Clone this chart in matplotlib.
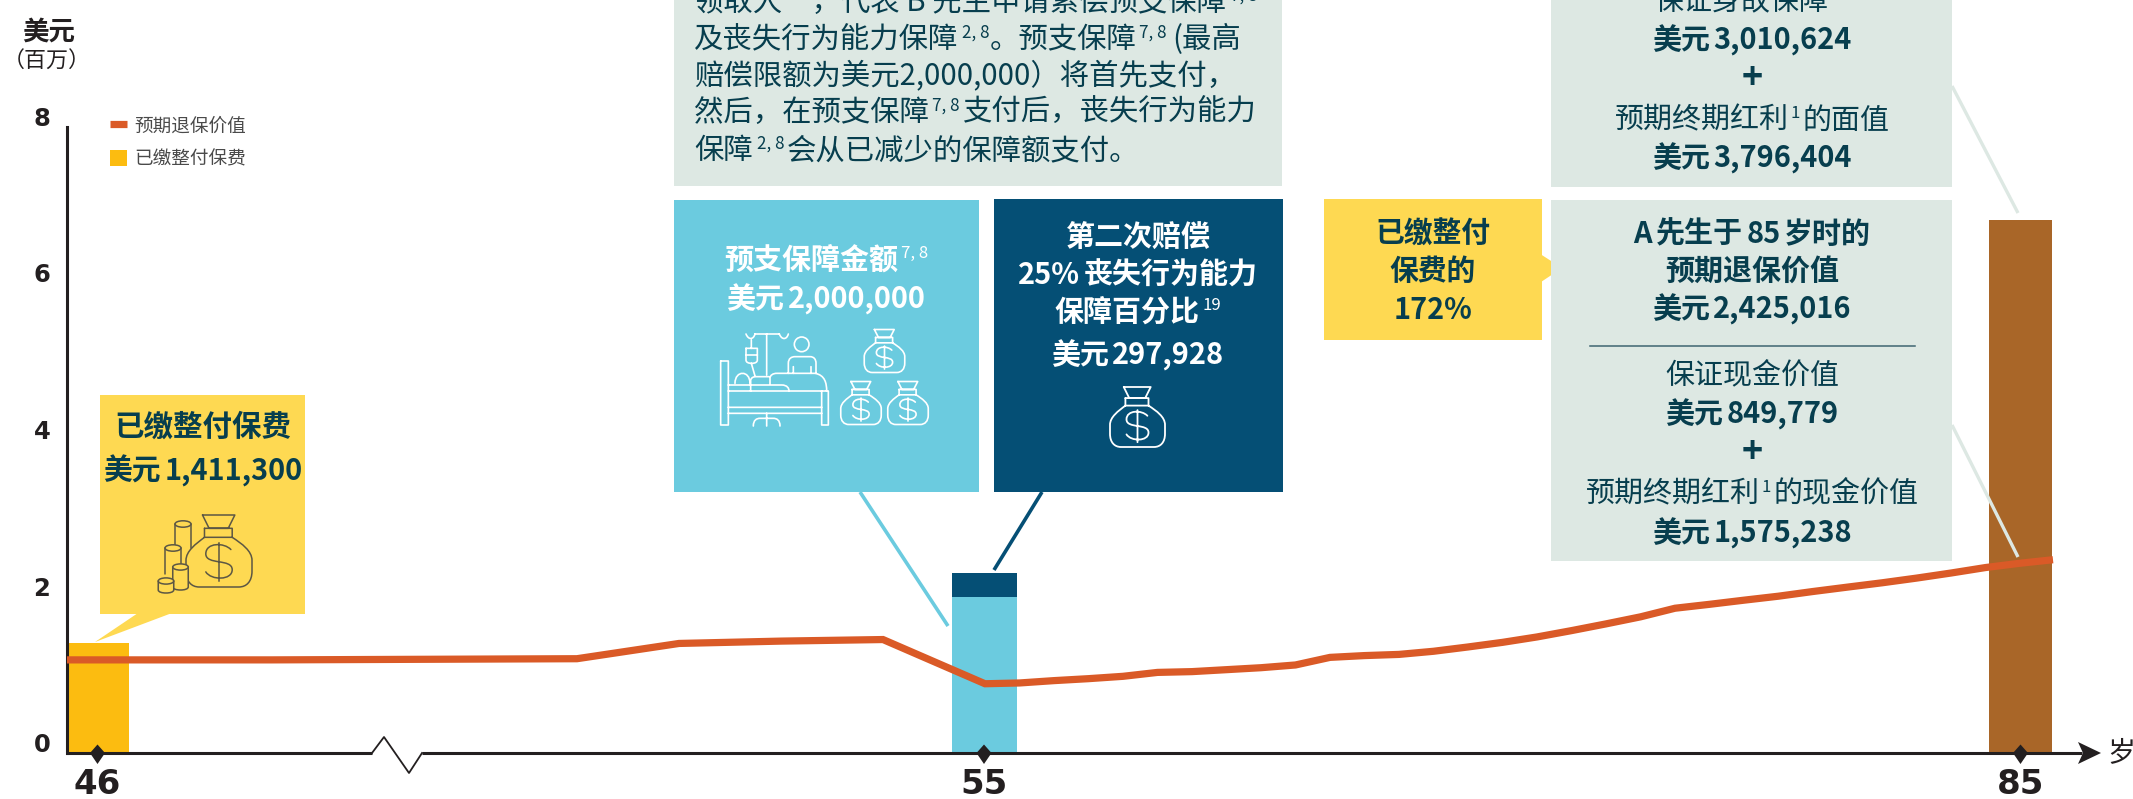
import numpy as np
import matplotlib
matplotlib.use("Agg")
import matplotlib.pyplot as plt
from matplotlib.path import Path
from matplotlib.patches import PathPatch, Rectangle, Polygon, Circle, Ellipse
from matplotlib.lines import Line2D
from matplotlib.transforms import ScaledTranslation

plt.rcParams['font.family'] = ['Noto Sans CJK SC', 'DejaVu Sans']

# ---------- data ----------
line_ages = list(range(46, 87))
surrender_value = [1.19, 1.19, 1.19, 1.195, 1.2, 1.205, 1.40, 1.43, 1.45, 0.885,
                   0.895, 0.925, 0.95, 0.98, 1.03, 1.04, 1.065, 1.09, 1.125, 1.222,
                   1.245, 1.26, 1.30, 1.355, 1.414, 1.483, 1.564, 1.65, 1.74, 1.85,
                   1.90, 1.953, 2.004, 2.064, 2.12, 2.175, 2.235, 2.30, 2.37, 2.425, 2.47]
tick_ages = [46, 55, 85]
premium_paid = [1.4113]
advance_benefit = [2.0]
second_claim = [0.297928]
age85_death_value = [6.807028]
y_ticks = [0, 2, 4, 6, 8]

C_LINE = '#da5a27'; C_YEL = '#fcbc10'; C_BLUE = '#6bcbdf'; C_NAVY = '#054f75'
C_BROWN = '#a96628'; C_BOX = '#fed952'; C_GREY = '#dde8e3'; C_TXT = '#073e4e'; C_AX = '#231f20'

W, H = 2133, 799
fig = plt.figure(figsize=(W / 100, H / 100), dpi=100, facecolor='white')

# ---------- data axes (pixel-aligned) ----------
AX_L, AX_R, AX_B, AX_T = 67, 2078, 753, 127
ax = fig.add_axes([AX_L / W, 1 - AX_B / H, (AX_R - AX_L) / W, (AX_B - AX_T) / H], zorder=2)
ax.patch.set_alpha(0)
ax.set_xlim(AX_L, AX_R)
ax.set_ylim(0, 8)
line_x = np.interp(line_ages, [46, 55, 85, 86], [67, 985, 2020, 2053])
tick_x = [97.5, 984, 2020.5]
ax.bar(tick_x[0] + 0.5, premium_paid, width=63, color=C_YEL, label='已缴整付保费')
ax.bar(tick_x[1] + 1, advance_benefit, width=65, color=C_BLUE)
ax.bar(tick_x[1] + 1, second_claim, bottom=advance_benefit, width=65, color=C_NAVY)
ax.bar(tick_x[2], age85_death_value, width=63.5, color=C_BROWN)
ax.plot(line_x, surrender_value, color=C_LINE, lw=5.2, solid_joinstyle='miter',
        solid_capstyle='butt', label='预期退保价值', zorder=3)
for s in ['top', 'right', 'bottom']:
    ax.spines[s].set_visible(False)
ax.spines['left'].set_linewidth(2.2)
ax.spines['left'].set_color(C_AX)
ax.set_yticks(y_ticks)
ax.set_yticklabels([str(v) for v in y_ticks], fontsize=17.5, fontweight='bold', color=C_AX,
                   family='DejaVu Sans')
ax.tick_params(axis='y', length=0, pad=12)
up = ScaledTranslation(0, 10.5 / 100, fig.dpi_scale_trans)
for lb in ax.get_yticklabels():
    lb.set_transform(lb.get_transform() + up)
ax.set_xticks(tick_x)
ax.set_xticklabels([str(a) for a in tick_ages], fontsize=24.5, fontweight='bold', color=C_AX,
                   family='DejaVu Sans')
ax.tick_params(axis='x', length=0, pad=11)
handles, labels = ax.get_legend_handles_labels()
order = sorted(range(len(labels)), key=lambda i: labels[i] != '预期退保价值')
leg = fig.legend([handles[i] for i in order], [labels[i] for i in order],
                 loc='upper left', bbox_to_anchor=(110 / W, 1 - 117 / H), frameon=False,
                 prop={'size': 13.4, 'family': 'Noto Sans CJK SC'}, labelcolor='#4a4a4a',
                 handlelength=0.92, handleheight=0.95, handletextpad=0.4, labelspacing=0.78,
                 borderpad=0, borderaxespad=0)

# ---------- overlay in pixel coordinates ----------
ov = fig.add_axes([0, 0, 1, 1], zorder=4)
ov.set_xlim(0, W); ov.set_ylim(H, 0); ov.axis('off'); ov.patch.set_alpha(0)
renderer = fig.canvas.get_renderer()


def rect(x0, y0, x1, y1, c, z=1):
    ov.add_patch(Rectangle((x0, y0), x1 - x0, y1 - y0, fc=c, ec='none', zorder=z))


def rich(x, cy, segs, px, bold=False, color=C_TXT, ha='center'):
    """segs: strings, or ('^', text) for superscript, or ('g', gap_px)."""
    base = cy + 0.37 * px
    w_weight = 'bold' if bold else 'normal'
    items, total = [], 0
    for s in ([segs] if isinstance(segs, str) else segs):
        if isinstance(s, tuple) and s[0] == 'g':
            total += s[1]
            items.append(('g', s[1], None))
            continue
        sup = isinstance(s, tuple)
        txt = s[1] if sup else s
        p = px * 0.58 if sup else px
        t = ov.text(0, base - (px * 0.36 if sup else 0), txt, fontsize=p * 0.72, color=color,
                    fontweight='normal' if sup else w_weight, ha='left', va='baseline', zorder=6,
                    clip_on=False)
        w = t.get_window_extent(renderer).width
        items.append(('t', w, t))
        total += w
    cur = x - total / 2 if ha == 'center' else x
    for kind, w, t in items:
        if t is not None:
            t.set_x(cur)
        cur += w


def money(label, amount):
    return [label, ('g', 3), amount]


def stroke(d, color, lw=1.1, x0=0, y0=0, sx=1, sy=1, z=7, fill='none'):
    tok = d.split()
    verts, codes, i = [], [], 0
    while i < len(tok):
        c = tok[i]
        n = {'M': 1, 'L': 1, 'C': 3}[c]
        for k in range(n):
            verts.append((x0 + float(tok[i + 1 + 2 * k]) * sx, y0 + float(tok[i + 2 + 2 * k]) * sy))
            codes.append({'M': Path.MOVETO, 'L': Path.LINETO, 'C': Path.CURVE4}[c])
        i += 1 + 2 * n
    ov.add_patch(PathPatch(Path(verts, codes), fc=fill, ec=color, lw=lw, zorder=z,
                           joinstyle='round', capstyle='round'))


BAG = ("M -0.25 -0.5 L 0.24 -0.5 L 0.14 -0.315 L -0.15 -0.315 L -0.25 -0.5 "
       "M -0.22 -0.315 L 0.2 -0.315 L 0.2 -0.19 L -0.22 -0.19 L -0.22 -0.315 "
       "M -0.22 -0.19 C -0.35 -0.1 -0.5 0 -0.5 0.13 L -0.5 0.28 C -0.5 0.42 -0.42 0.5 -0.3 0.5 "
       "L 0.3 0.5 C 0.42 0.5 0.5 0.42 0.5 0.28 L 0.5 0.13 C 0.5 0 0.35 -0.1 0.2 -0.19 "
       "M 0.18 -0.02 C 0.08 -0.12 -0.2 -0.12 -0.2 0.04 C -0.2 0.2 0.2 0.1 0.2 0.26 "
       "C 0.2 0.41 -0.12 0.41 -0.2 0.29 M 0 -0.115 L 0 0.42")


def bag(cx, cy, w, h, color, lw=1.1):
    stroke(BAG, color, lw, cx, cy, w, h)


def cyl(cx, top, bot, w, color, fill, closed=True, lw=1.1):
    ry = w * 0.2
    x0, x1 = cx - w / 2, cx + w / 2
    if closed:
        d = (f"M {x0} {top} L {x0} {bot} C {x0} {bot + ry * 1.3} {x1} {bot + ry * 1.3} {x1} {bot} "
             f"L {x1} {top}")
    else:
        d = f"M {x0} {bot} L {x0} {top} L {x1} {top} L {x1} {bot}"
    stroke(d, color, lw, fill=fill)
    ov.add_patch(Ellipse((cx, top), w, ry * 2, fc=fill, ec=color, lw=lw, zorder=7))


# axis with break and arrow
ax_kw = dict(color=C_AX, solid_capstyle='butt', zorder=5)
ov.add_line(Line2D([66, 372], [753, 753], lw=2.2, **ax_kw))
ov.add_line(Line2D([372, 384, 409, 422], [753, 737, 773, 753], lw=1.3, color=C_AX, zorder=5))
ov.add_line(Line2D([422, 2082], [753, 753], lw=2.2, **ax_kw))
ov.add_patch(Polygon([(2078, 742), (2101, 753), (2078, 764), (2083, 753)], fc=C_AX, ec='none', zorder=5))
for tx in tick_x:
    ov.add_patch(Polygon([(tx, 744.5), (tx + 7.5, 753), (tx, 764), (tx - 7.5, 753)], fc=C_AX, ec='none', zorder=5))
rich(2107, 751, '岁', 28, color=C_AX, ha='left')
rich(49, 30, '美元', 26.5, bold=True, color=C_AX)
rich(47, 60, '（百万）', 22, color=C_AX)

# connectors
conn = dict(solid_capstyle='butt', zorder=5)
ov.add_line(Line2D([860, 948], [492, 626], color=C_BLUE, lw=2.6, **conn))
ov.add_line(Line2D([1042, 994], [492, 570], color=C_NAVY, lw=2.6, **conn))
ov.add_line(Line2D([1952, 2018], [86, 213], color=C_GREY, lw=2.4, **conn))
ov.add_line(Line2D([1952, 2018], [425, 557], color=C_GREY, lw=2.4, **conn))

# premium callout
rect(100, 395, 305, 614, C_BOX)
ov.add_patch(Polygon([(138, 613), (172, 613), (95, 642)], fc=C_BOX, ec='none', zorder=1))
rich(203, 425, '已缴整付保费', 29.5, bold=True)
rich(203, 469, money('美元', '1,411,300'), 28.8, bold=True)
ICON = '#5c5744'
bag(219, 551, 66, 72, ICON)
cyl(183, 524, 548, 16, ICON, C_BOX, closed=False)
cyl(173, 548, 574, 16, ICON, C_BOX, closed=False)
cyl(180.5, 567, 587, 15.5, ICON, C_BOX)
cyl(166, 581, 590, 15.5, ICON, C_BOX)

# grey box, left
rect(674, -10, 1282, 186, C_GREY)
left_lines = [
    (0, ['领取人”，代表 B 先生申请索偿预支保障', ('g', 4), ('^', '7, 8')]),
    (37, ['及丧失行为能力保障', ('g', 4), ('^', '2, 8'), '。预支保障', ('g', 2), ('^', '7, 8'), ('g', 6), '(最高']),
    (73, ['赔偿限额为美元2,000,000）将首先支付，']),
    (110, ['然后，在预支保障', ('g', 3), ('^', '7, 8'), ('g', 3), '支付后，丧失行为能力']),
    (148, ['保障', ('g', 4), ('^', '2, 8'), ('g', 3), '会从已减少的保障额支付。']),
]
for y, segs in left_lines:
    rich(694, y, segs, 29.4, ha='left')

# light-blue box
rect(674, 200, 979, 492, C_BLUE)
rich(826, 258, ['预支保障金额', ('g', 3), ('^', '7, 8')], 29, bold=True, color='white')
rich(826, 297, money('美元', '2,000,000'), 29, bold=True, color='white')
bed = ("M 32 123 L 55 123 L 55 315 L 32 315 L 32 123 "
       "M 335 213 L 355 213 L 355 315 L 335 315 L 335 213 "
       "M 55 213 L 335 213 M 55 262 L 335 262 M 55 280 L 335 280 "
       "M 55 195 L 120 195 M 75 190 C 75 150 120 150 120 190 "
       "M 180 192 L 180 175 C 180 165 190 160 200 160 L 315 160 C 345 165 350 190 350 213 "
       "M 122 213 L 122 180 C 125 172 130 170 140 170 L 178 170 "
       "M 122 195 L 215 195 C 232 195 237 205 237 213 "
       "M 235 160 L 235 130 C 235 115 245 110 255 110 L 300 110 C 312 110 318 118 318 130 L 318 160 "
       "M 250 160 L 250 140 M 303 160 L 303 140 "
       "M 170 42 L 170 165 M 135 42 L 208 42 "
       "M 108 42 C 115 60 130 60 135 42 M 208 42 C 215 60 230 60 235 42 "
       "M 108 85 L 142 85 L 142 120 C 142 127 135 130 125 130 C 115 130 108 127 108 120 L 108 85 "
       "M 108 105 L 142 105 M 124 60 L 124 85 M 124 130 L 135 168 "
       "M 170 280 L 170 318 M 130 318 C 130 300 140 295 150 295 L 190 295 C 200 295 210 300 210 318")
stroke(bed, 'white', 1.2, 710, 320, 1 / 3, 1 / 3)
ov.add_patch(Circle((710 + 275 / 3, 320 + 73 / 3), 22 / 3, fc='none', ec='white', lw=1.2, zorder=7))
bag(884.5, 351, 40.5, 43, 'white', 1.2)
bag(861, 403, 40.5, 43, 'white', 1.2)
bag(908, 403, 40.5, 43, 'white', 1.2)

# navy box
rect(993.5, 199, 1282.5, 492, C_NAVY)
rich(1138, 236, '第二次赔偿', 29, bold=True, color='white')
rich(1138, 273, ['25%', ('g', 4), '丧失行为能力'], 29, bold=True, color='white')
rich(1138, 310, ['保障百分比', ('g', 3), ('^', '19')], 29, bold=True, color='white')
rich(1138, 353, money('美元', '297,928'), 29, bold=True, color='white')
bag(1137.5, 417, 55, 60, 'white', 1.3)

# yellow 172% box
rect(1324, 199, 1542, 340, C_BOX)
ov.add_patch(Polygon([(1541, 254.5), (1562, 268), (1541, 282)], fc=C_BOX, ec='none', zorder=1))
rich(1433, 232, '已缴整付', 28.8, bold=True)
rich(1433, 269, '保费的', 28.8, bold=True)
rich(1433, 308, '172%', 28.8, bold=True)

# grey boxes, right
rect(1551, -10, 1952, 186.5, C_GREY)
rect(1551, 200, 1952, 561, C_GREY)
CX = 1752
rich(CX, 0, ['保证身故保障', ('g', 3), ('^', '10')], 29)
rich(CX, 38, money('美元', '3,010,624'), 29, bold=True)
rich(CX, 76, '+', 36, bold=True)
rich(CX, 118, ['预期终期红利', ('g', 2), ('^', '1'), ('g', 2), '的面值'], 29)
rich(CX, 156, money('美元', '3,796,404'), 29, bold=True)
rich(CX, 232, ['A', ('g', 4), '先生于', ('g', 3), '85', ('g', 3), '岁时的'], 29, bold=True)
rich(CX, 269, '预期退保价值', 29, bold=True)
rich(CX, 307, money('美元', '2,425,016'), 29, bold=True)
ov.add_line(Line2D([1590, 1915], [346, 346], color='#3f6571', lw=1.1, zorder=6))
rich(CX, 374, '保证现金价值', 29)
rich(CX, 412, money('美元', '849,779'), 29, bold=True)
rich(CX, 449.5, '+', 36, bold=True)
rich(CX, 492, ['预期终期红利', ('g', 2), ('^', '1'), ('g', 2), '的现金价值'], 29)
rich(CX, 531, money('美元', '1,575,238'), 29, bold=True)

fig.savefig('out.png', dpi=100, facecolor='white')
